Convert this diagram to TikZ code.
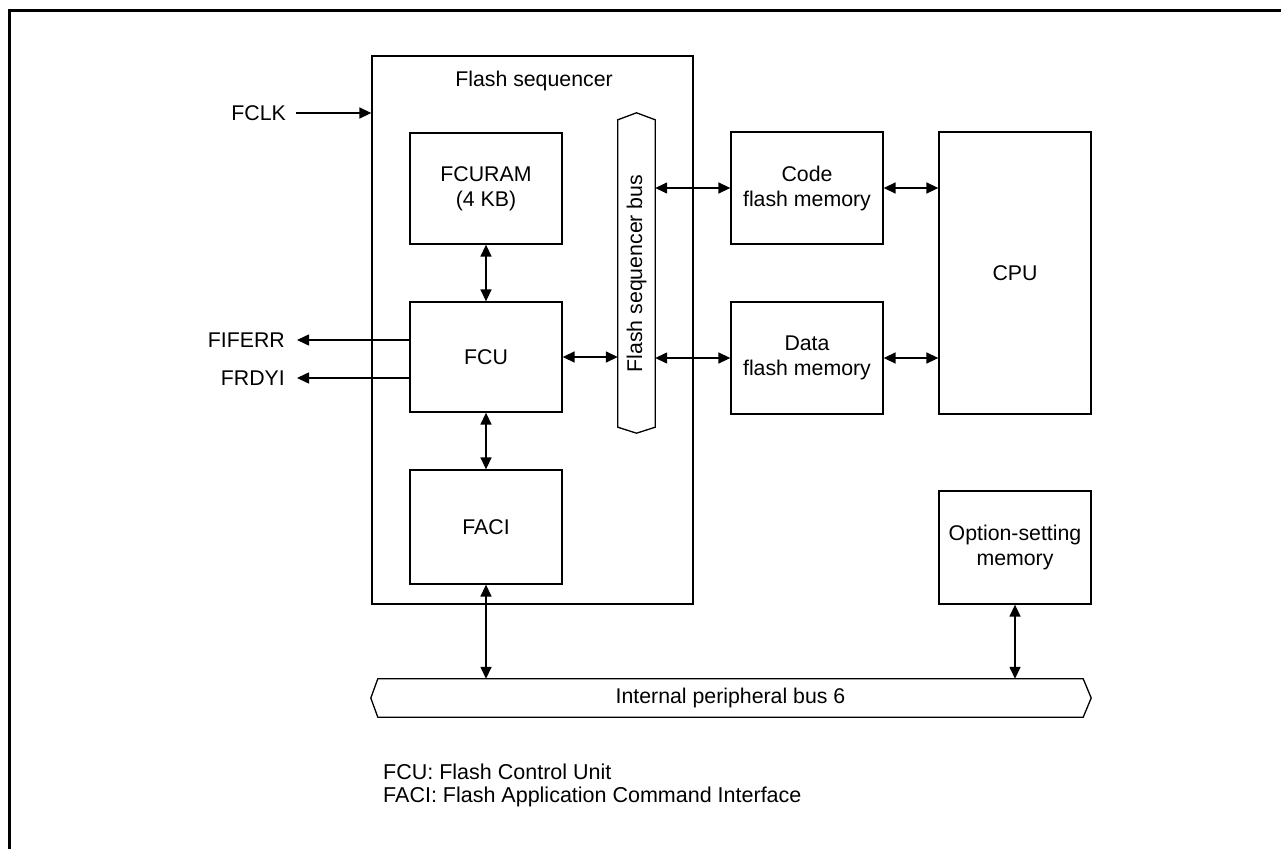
\documentclass[tikz,border=0pt]{standalone}
\usepackage{fontspec}
\setmainfont{Liberation Sans}
\usetikzlibrary{arrows.meta}
\begin{document}
\begin{tikzpicture}[x=1pt,y=-1pt,
  every node/.style={font=\fontsize{21.3pt}{25pt}\selectfont},
  blk/.style={draw, line width=1.3pt, inner sep=0pt, align=center, minimum width=152pt},
  ghost/.style={draw=none, inner sep=0pt},
  lbl/.style={inner sep=0pt},
  note/.style={inner sep=0pt, anchor=base west, font=\fontsize{21.5pt}{25pt}\selectfont},
  arr/.style={line width=1.5pt, -{Triangle[length=12pt,width=11pt]}},
  darr/.style={line width=1.5pt, {Triangle[length=12pt,width=11pt]}-{Triangle[length=12pt,width=11pt]}},
  busline/.style={line width=1.3pt, line join=miter}
]
\useasboundingbox (0,0) rectangle (1281,848);
\fill[white] (0,0) rectangle (1281,848);
% outer frame
\draw[line width=3pt, line join=miter] (9,870) -- (9,10.5) -- (1300,10.5);

% flash sequencer
\node[blk, minimum width=321pt, minimum height=548pt] (seq) at (532.5,330) {};
\node[lbl, anchor=base] (seqlbl) at (534,87) {Flash sequencer};

\node[blk, minimum height=111pt] (fcuram) at (486,188.5) {FCURAM\\(4 KB)};
\node[blk, minimum height=110pt] (fcu) at (486,357) {FCU};
\node[blk, minimum height=114pt] (faci) at (486,527) {FACI};

% flash sequencer bus
\node[ghost, minimum width=37pt, minimum height=307pt] (sb) at (636.5,273.5) {};
\draw[busline] (sb.north west) -- ([yshift=7pt]sb.north) -- (sb.north east) -- (sb.south east)
  -- ([yshift=-6pt]sb.south) -- (sb.south west) -- cycle;
\node[lbl, rotate=90] (sbtxt) at (sb.center) {Flash sequencer bus};

% memories and CPU
\node[blk, minimum height=112pt] (code) at (807,188) {Code\\flash memory};
\node[blk, minimum height=112pt] (data) at (807,358) {Data\\flash memory};
\node[blk, minimum height=282pt] (cpu) at (1015,273) {CPU};
\node[blk, minimum height=113pt] (opt) at (1015,547.5) {Option-setting\\memory};

% internal peripheral bus
\node[ghost, minimum width=705pt, minimum height=38pt] (ib) at (730.5,698) {};
\draw[busline] (ib.north west) -- (ib.north east) -- ([xshift=8pt]ib.east) -- (ib.south east)
  -- (ib.south west) -- ([xshift=-7pt]ib.west) -- cycle;
\node[lbl] (ibtxt) at (ib.center) {Internal peripheral bus 6};

% external signals
\node[lbl, anchor=east] (fclk) at (286,113) {FCLK};
\node[lbl, anchor=east] (fiferr) at (285,340) {FIFERR};
\node[lbl, anchor=east] (frdyi) at (285,378) {FRDYI};
\draw[arr] ([xshift=10pt]fclk.east) -- (seq.west |- fclk.east);
\draw[arr] (fcu.west |- fiferr.east) -- ([xshift=12pt]fiferr.east);
\draw[arr] (fcu.west |- frdyi.east) -- ([xshift=12pt]frdyi.east);

% connections
\draw[darr] (fcuram.south) -- (fcu.north);
\draw[darr] (fcu.south) -- (faci.north);
\draw[darr] (fcu.east) -- (fcu.east -| sb.west);
\draw[darr] (sb.east |- code.west) -- (code.west);
\draw[darr] (sb.east |- data.west) -- (data.west);
\draw[darr] (code.east) -- (code.east -| cpu.west);
\draw[darr] (data.east) -- (data.east -| cpu.west);
\draw[darr] (faci.south) -- (faci.south |- ib.north);
\draw[darr] (opt.south) -- (opt.south |- ib.north);

% footnotes
\node[note] (note1) at (383,779) {FCU: Flash Control Unit};
\node[note] (note2) at (383,802) {FACI: Flash Application Command Interface};
\end{tikzpicture}
\end{document}
